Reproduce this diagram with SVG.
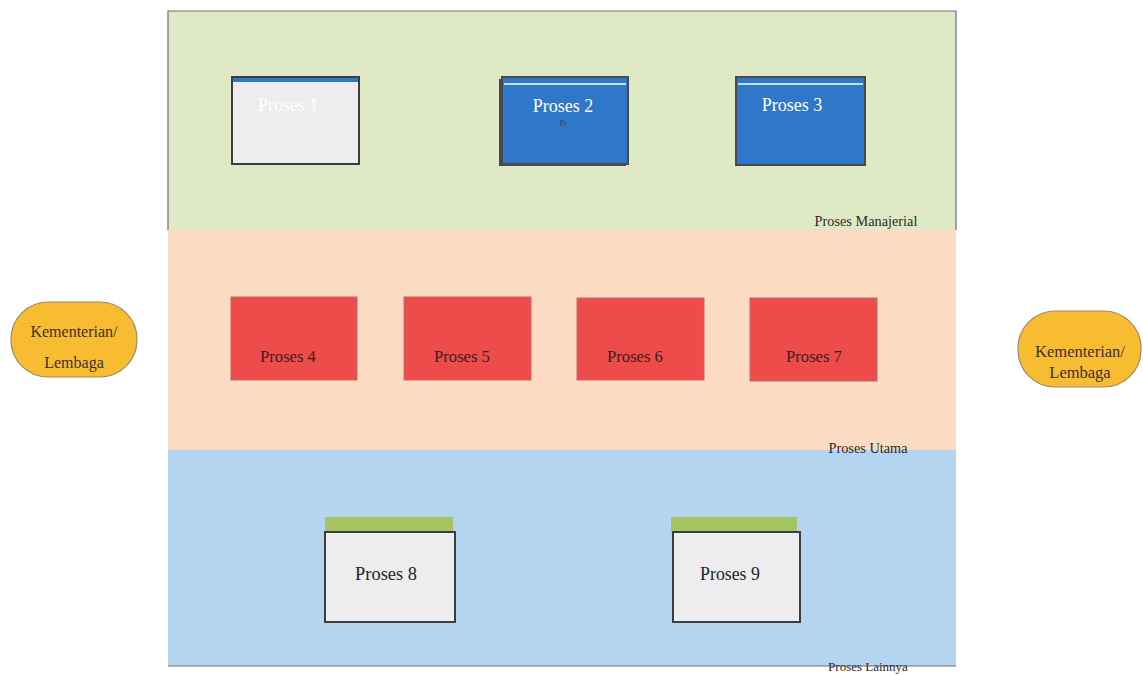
<svg xmlns="http://www.w3.org/2000/svg" width="1143" height="675" viewBox="0 0 1143 675">
<style>
.t{font-family:"Liberation Serif",serif;font-size:16.6px;text-anchor:middle}
.lbl{font-family:"Liberation Serif",serif;font-size:14.3px;text-anchor:middle;fill:#2a2a2a}
.red{fill:#ee4b4b;stroke:#c46a6a;stroke-width:1}
.wbox{fill:#ededef;stroke:#3d3d40;stroke-width:2}
.bbox{fill:#2f77c9;stroke:#4a4a4e;stroke-width:2}
.oval{fill:#f8bc31;stroke:#9c8a6a;stroke-width:1.2}
</style>
<rect width="1143" height="675" fill="#ffffff"/>
<g id="bands">
<rect x="168" y="11" width="788" height="219" fill="#e0e9c5"/>
<rect x="168" y="230" width="788" height="220" fill="#fbdcc3"/>
<rect x="168" y="450" width="788" height="216" fill="#b4d5f0"/>
<path d="M168 230 V11 H956 V230" fill="none" stroke="#6e6e6e" stroke-width="1.2"/>
<line x1="168" y1="666" x2="956" y2="666" stroke="#6e6e6e" stroke-width="1"/>
<text class="lbl" x="866" y="226">Proses Manajerial</text>
<text class="lbl" x="868" y="453">Proses Utama</text>
<text class="lbl" x="868" y="671" style="font-size:13px">Proses Lainnya</text>
</g>
<g id="connectors"></g>
<g id="p1">
<rect class="wbox" x="232" y="77" width="127" height="87"/>
<rect x="233" y="78" width="125" height="4" fill="#2f77c9"/>
<text class="t" x="288" y="111" style="font-size:17.8px" fill="#ffffff">Proses 1</text>
</g>
<g id="p2">
<rect x="499" y="79" width="127" height="87" fill="#4a4a4e"/>
<rect class="bbox" x="502" y="77" width="126" height="87"/>
<line x1="504" y1="84" x2="626" y2="84" stroke="#ffffff" stroke-width="1.5"/>
<text class="t" x="563" y="112" style="font-size:18px" fill="#ffffff">Proses 2</text>
<text x="563" y="126" font-family="Liberation Serif,serif" font-size="8" text-anchor="middle" fill="#3a3a5a">Pr</text>
</g>
<g id="p3">
<rect class="bbox" x="736" y="77" width="129" height="88"/>
<line x1="738" y1="84" x2="863" y2="84" stroke="#ffffff" stroke-width="1.5"/>
<text class="t" x="792" y="111" style="font-size:18px" fill="#ffffff">Proses 3</text>
</g>
<g id="p4"><rect class="red" x="231" y="297" width="126" height="83"/><text class="t" x="288" y="362" fill="#3a2020">Proses 4</text></g>
<g id="p5"><rect class="red" x="404" y="297" width="127" height="83"/><text class="t" x="462" y="362" fill="#3a2020">Proses 5</text></g>
<g id="p6"><rect class="red" x="577" y="298" width="127" height="82"/><text class="t" x="635" y="362" fill="#3a2020">Proses 6</text></g>
<g id="p7"><rect class="red" x="750" y="298" width="127" height="83"/><text class="t" x="814" y="362" fill="#3a2020">Proses 7</text></g>
<g id="p8">
<rect x="325" y="517" width="128" height="15" fill="#a3c45e"/>
<rect class="wbox" x="325" y="532" width="130" height="90"/>
<text class="t" x="386" y="580" style="font-size:18.4px" fill="#222222">Proses 8</text>
</g>
<g id="p9">
<rect x="671" y="517" width="126" height="15" fill="#a3c45e"/>
<rect class="wbox" x="673" y="532" width="127" height="90"/>
<text class="t" x="730" y="580" style="font-size:17.8px" fill="#222222">Proses 9</text>
</g>
<g id="k1">
<rect class="oval" x="11" y="302" width="126" height="75" rx="37"/>
<text class="t" x="74" y="337" style="font-size:16px" fill="#3a3030">Kementerian/</text>
<text class="t" x="74" y="368" style="font-size:16px" fill="#3a3030">Lembaga</text>
</g>
<g id="k2">
<rect class="oval" x="1018" y="311" width="123" height="76" rx="37"/>
<text class="t" x="1080" y="357" style="font-size:16.5px" fill="#3a3030">Kementerian/</text>
<text class="t" x="1080" y="378" style="font-size:16.5px" fill="#3a3030">Lembaga</text>
</g>
</svg>
